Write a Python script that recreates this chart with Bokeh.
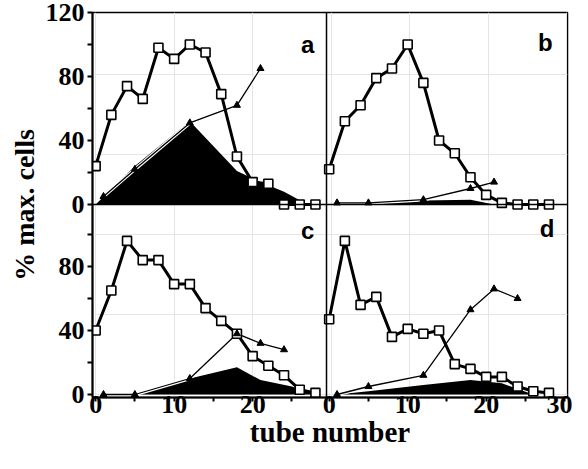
from bokeh.plotting import figure
from bokeh.models import Range1d, FixedTicker, Label, LinearAxis, Span, Title
from bokeh.embed import file_html
from bokeh.resources import INLINE

# ---------------- data ----------------
tube_sq = [0, 2, 4, 6, 8, 10, 12, 14, 16, 18, 20, 22, 24, 26, 28]

a_sq = [24, 56, 74, 66, 98, 91, 100, 95, 69, 30, 14, 13, 0, 0, 0]
a_tri_x = [1, 5, 12, 18, 21]
a_tri = [5, 22, 51, 62, 85]
a_area_x = [0, 5, 12, 18, 21, 24, 27]
a_area = [0, 24, 52, 21, 14, 8, 0]

b_sq = [22, 52, 62, 79, 85, 100, 76, 40, 32, 17, 6, 1, 0, 0, 0]
b_tri_x = [1, 5, 12, 18, 21]
b_tri = [1, 1, 3, 10, 14]
b_area_x = [0, 5, 12, 18, 21]
b_area = [0, 1.5, 2.5, 3, 0]

c_sq = [40, 65, 96, 84, 84, 69, 69, 54, 46, 38, 24, 18, 12, 3, 1]
c_tri_x = [1, 5, 12, 18, 21, 24]
c_tri = [0, 0, 10, 38, 32, 28]
c_area_x = [5, 12, 18, 21, 25, 28]
c_area = [0, 10, 17, 9, 5, 0]

d_sq = [47, 96, 56, 61, 36, 41, 38, 40, 19, 16, 11, 11, 5, 2, 1]
d_tri_x = [1, 5, 12, 18, 21, 24]
d_tri = [0, 5, 12, 53, 66, 60]
d_area_x = [1, 5, 12, 18, 22, 26]
d_area = [0, 2, 6, 9, 7, 0]

y_major_top = [0, 40, 80, 120]
y_major_bottom = [0, 40, 80]
y_minor = [20, 60, 100]
x_major_left = [0, 10, 20]
x_major_right = [0, 10, 20, 30]
x_minor = [5, 15, 25]

panel_letters = ["a", "b", "c", "d"]
y_title = "% max. cells"
x_title = "tube number"

SERIF = "Liberation Serif"
SANS = "Liberation Sans"

# ---------------- geometry: one frame holding the 2x2 panels ----------------
PX = 7.85          # pixels per tube
PY = 1.6           # pixels per percent
FW, FH = 475, 385  # frame size
OFF_X = 29.75      # right panels sit this many tubes to the right
OFF_Y = 118.75     # upper panels sit this many % above

xl = Range1d(-0.4, -0.4 + FW / PX)
yb = Range1d(-1.875, -1.875 + FH / PY)

p = figure(frame_width=FW, frame_height=FH, x_range=xl, y_range=yb,
           x_axis_location=None, y_axis_location=None,
           output_backend="svg", toolbar_location=None,
           min_border_left=92, min_border_right=5,
           min_border_top=12, min_border_bottom=56)
p.extra_x_ranges = {"right": Range1d(xl.start - OFF_X, xl.end - OFF_X)}
p.extra_y_ranges = {"top": Range1d(yb.start - OFF_Y, yb.end - OFF_Y)}
p.outline_line_color = "black"
p.outline_line_width = 1.5
p.outline_line_alpha = 1
p.background_fill_color = "white"
p.border_fill_color = "white"


def style_axis(ax, tick_out, standoff):
    ax.axis_line_width = 2
    ax.axis_line_color = "black"
    ax.major_tick_in = 0
    ax.major_tick_out = tick_out
    ax.minor_tick_in = 0
    ax.minor_tick_out = tick_out
    ax.major_tick_line_width = 2
    ax.minor_tick_line_width = 2
    ax.major_label_standoff = standoff
    ax.major_label_text_font = SERIF
    ax.major_label_text_font_style = "bold"
    ax.major_label_text_font_size = "26px"
    ax.major_label_text_color = "black"


# left axis: lower-panel ticks plus upper-panel ticks shifted by OFF_Y
y_ticks = list(y_major_bottom) + [v + OFF_Y for v in y_major_top]
y_minors = list(y_minor) + [v + OFF_Y for v in y_minor]
y_over = {float(v): str(v) for v in y_major_bottom}
y_over.update({float(v + OFF_Y): str(v) for v in y_major_top})
yax = LinearAxis(ticker=FixedTicker(ticks=y_ticks, minor_ticks=y_minors),
                 major_label_overrides=y_over)
style_axis(yax, 5, 3)
p.add_layout(yax, "left")

# bottom axis: left-panel ticks plus right-panel ticks shifted by OFF_X
x_ticks = list(x_major_left) + [t + OFF_X for t in x_major_right]
x_minors = list(x_minor) + [t + OFF_X for t in x_minor]
x_over = {float(t): str(t) for t in x_major_left}
x_over.update({float(t + OFF_X): str(t) for t in x_major_right})
xax = LinearAxis(ticker=FixedTicker(ticks=x_ticks, minor_ticks=x_minors),
                 major_label_overrides=x_over)
style_axis(xax, 4, -6)
p.add_layout(xax, "below")

# axis titles
p.add_layout(Title(text=y_title, align="center", offset=-27.5, standoff=6,
                   text_font=SERIF, text_font_style="bold", text_font_size="28px",
                   text_color="black"), "left")
p.add_layout(Title(text=x_title, align="center", offset=-11.5, standoff=-3,
                   text_font=SERIF, text_font_style="bold", text_font_size="29px",
                   text_color="black"), "below")

# panel dividers
p.add_layout(Span(location=0, dimension="width", y_range_name="top",
                  line_color="black", line_width=1.5))
p.add_layout(Span(location=xl.start + 234 / PX, dimension="height",
                  line_color="black", line_width=1.5))


def draw(sq, tx, ty, ax_, ay_, xr, yr):
    kw = {}
    if xr:
        kw["x_range_name"] = xr
    if yr:
        kw["y_range_name"] = yr
    p.varea(x=ax_, y1=[0] * len(ax_), y2=ay_, fill_color="black", **kw)
    p.line(tx, ty, line_color="white", line_width=3.5, **kw)
    p.line(tx, ty, line_color="black", line_width=1.3, **kw)
    p.line(tube_sq, sq, line_color="black", line_width=3, **kw)
    p.scatter(tube_sq, sq, marker="square", size=9, fill_color="white",
              line_color="black", line_width=1.6, **kw)
    p.scatter(tx, ty, marker="triangle", size=7, fill_color="black",
              line_color="black", **kw)


draw(a_sq, a_tri_x, a_tri, a_area_x, a_area, None, "top")
draw(b_sq, b_tri_x, b_tri, b_area_x, b_area, "right", "top")
draw(c_sq, c_tri_x, c_tri, c_area_x, c_area, None, None)
draw(d_sq, d_tri_x, d_tri, d_area_x, d_area, "right", None)

# panel letters
for letter, lx, ly in zip(panel_letters, [27.0, 57.3, 27.0, 57.5],
                          [218.75, 220.0, 102.5, 103.75]):
    p.add_layout(Label(x=lx, y=ly, text=letter, text_font=SANS,
                       text_font_style="bold", text_font_size="24px",
                       text_align="center", text_baseline="middle",
                       text_color="black"))

open("out.html", "w").write(file_html(p, INLINE))
